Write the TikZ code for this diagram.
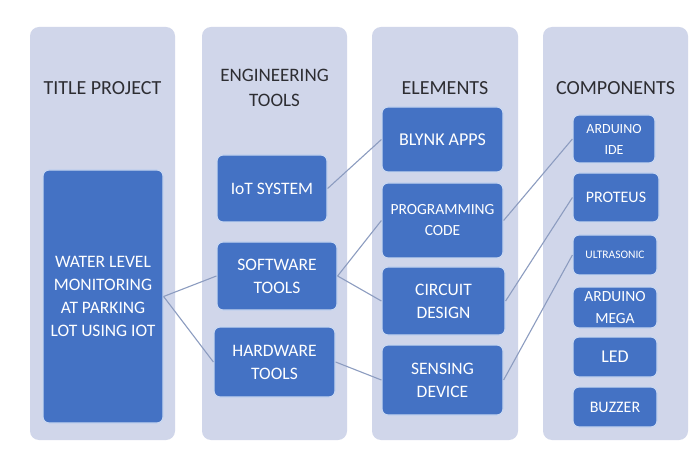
\documentclass[tikz,border=0pt]{standalone}
\usepackage{fontspec}
\setmainfont{Carlito}
\usetikzlibrary{positioning}

\definecolor{panelgrey}{RGB}{208,214,234}
\definecolor{boxblue}{RGB}{68,114,196}
\definecolor{boxedge}{RGB}{200,214,240}
\definecolor{linkgrey}{RGB}{140,156,192}
\definecolor{headtext}{RGB}{45,45,50}

\tikzset{
  panel/.style={fill=panelgrey, draw=none, rounded corners=9pt, anchor=center},
  head/.style={text=headtext, font=\fontsize{20}{24}\selectfont, align=center, inner sep=0pt},
  item/.style={fill=boxblue, draw=boxedge, line width=1.2pt, rounded corners=6pt,
    text=white, align=center, inner sep=1pt, anchor=center,
    font=\fontsize{17.5}{23}\selectfont},
  link/.style={draw=linkgrey, line width=1.1pt}
}

\begin{document}
\begin{tikzpicture}[x=1pt,y=1pt,yscale=-1]
    \useasboundingbox (0,0) rectangle (693,462);
    \fill[white] (0,0) rectangle (693,462);

    %Shape: column panels
    \node[panel, minimum width=145pt, minimum height=413pt] (colTitle) at (102.5,233.5) {};
    \node[panel, minimum width=145pt, minimum height=413pt] (colTools) at (274.5,233.5) {};
    \node[panel, minimum width=146pt, minimum height=413pt] (colElem) at (445,233.5) {};
    \node[panel, minimum width=145pt, minimum height=413pt] (colComp) at (615.5,233.5) {};

    % Text Node
    \node[head] (hTitle) at (102.5,88) {TITLE PROJECT};
    % Text Node
    \node[head, font=\fontsize{19}{25}\selectfont] (hTools) at (274.5,88) {ENGINEERING\\TOOLS};
    % Text Node
    \node[head] (hElem) at (445,88) {ELEMENTS};
    % Text Node
    \node[head] (hComp) at (615.5,88) {COMPONENTS};

    %Shape: title project
    \node[item, minimum width=120pt, minimum height=253pt] (water) at (103,296.5)
      {WATER LEVEL\\MONITORING\\AT PARKING\\LOT USING IOT};

    %Shape: engineering tools
    \node[item, minimum width=110pt, minimum height=67pt] (iot) at (272,188.5) {IoT SYSTEM};
    \node[item, minimum width=120pt, minimum height=68pt] (software) at (277,276) {SOFTWARE\\TOOLS};
    \node[item, minimum width=121pt, minimum height=70pt] (hardware) at (274.5,362) {HARDWARE\\TOOLS};

    %Shape: elements
    \node[item, minimum width=121pt, minimum height=65pt, font=\fontsize{18}{22}\selectfont] (blynk) at (442.5,139.5) {BLYNK APPS};
    \node[item, minimum width=121pt, minimum height=75pt, font=\fontsize{15.5}{21}\selectfont] (progcode) at (442.5,220.5) {PROGRAMMING\\CODE};
    \node[item, minimum width=123pt, minimum height=68pt] (circuit) at (443.5,301) {CIRCUIT\\DESIGN};
    \node[item, minimum width=121pt, minimum height=70pt] (sensing) at (442.5,380) {SENSING\\DEVICE};

    %Shape: components
    \node[item, minimum width=82pt, minimum height=48pt, font=\fontsize{14}{21}\selectfont] (ardide) at (614,139) {ARDUINO\\IDE};
    \node[item, minimum width=86pt, minimum height=49pt, font=\fontsize{16}{20}\selectfont] (proteus) at (616,197.5) {PROTEUS};
    \node[item, minimum width=84pt, minimum height=40pt, font=\fontsize{11.5}{14}\selectfont] (ultra) at (615,255) {ULTRASONIC};
    \node[item, minimum width=84pt, minimum height=41pt, font=\fontsize{15.5}{22}\selectfont] (ardmega) at (615,307.5) {ARDUINO\\MEGA};
    \node[item, minimum width=84pt, minimum height=40pt, font=\fontsize{18}{22}\selectfont] (led) at (615,357) {LED};
    \node[item, minimum width=84pt, minimum height=40pt, font=\fontsize{16}{20}\selectfont] (buzzer) at (615,407) {BUZZER};

    %Straight Lines
    \draw[link] (water.east) -- (software.west);
    \draw[link] (water.east) -- (hardware.west);
    \draw[link] (iot.east) -- (blynk.west);
    \draw[link] (software.east) -- (progcode.west);
    \draw[link] (software.east) -- (circuit.west);
    \draw[link] (hardware.east) -- (sensing.west);
    \draw[link] (progcode.east) -- (ardide.west);
    \draw[link] (circuit.east) -- (proteus.west);
    \draw[link] (sensing.east) -- (ultra.west);
\end{tikzpicture}
\end{document}
